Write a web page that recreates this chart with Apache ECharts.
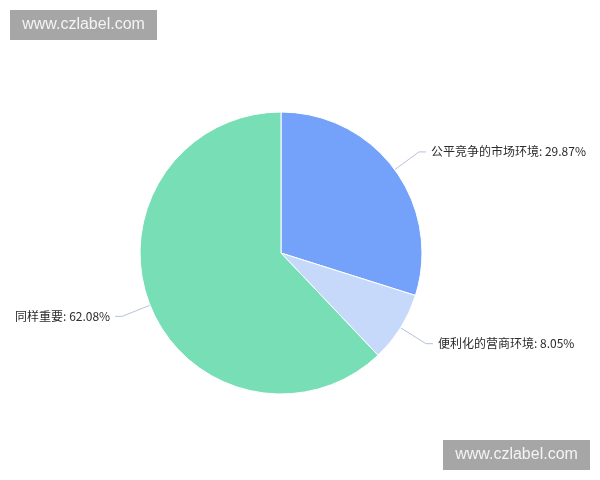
<!DOCTYPE html>
<html>
<head>
<meta charset="utf-8">
<script src="https://cdn.jsdelivr.net/npm/echarts@6/dist/echarts.min.js"></script>
<style>html,body{margin:0;padding:0;background:#fff}#c{width:600px;height:480px}</style>
</head>
<body>
<div id="c"></div>
<script>
const categories = ['公平竞争的市场环境', '便利化的营商环境', '同样重要'];
const values = [29.87, 8.05, 62.08];
const colors = ['#74a2fa', '#c7d9fb', '#78deb6'];
const watermark = 'www.czlabel.com';

const chart = echarts.init(document.getElementById('c'));
function wm(x, y) {
  return {
    type: 'group', left: x, top: y,
    children: [
      { type: 'rect', shape: { x: 0, y: 0, width: 147, height: 30 }, style: { fill: '#a6a6a6' } },
      { type: 'text', x: 73.5, y: 15, style: { text: watermark, fill: '#f4f4f4', font: '16px "Liberation Sans", Arial, sans-serif', textAlign: 'center', textVerticalAlign: 'middle' } }
    ]
  };
}
chart.setOption({
  animation: false,
  graphic: [wm(10, 10), wm(443, 440)],
  series: [{
    type: 'pie',
    center: [281, 253],
    radius: 141,
    startAngle: 90,
    clockwise: true,
    data: categories.map((n, i) => ({ name: n, value: values[i], itemStyle: { color: colors[i] } })),
    itemStyle: { borderColor: '#fff', borderWidth: 1 },
    label: {
      formatter: '{b}: {c}%',
      color: '#2b2b2b',
      fontSize: 12,
      fontFamily: '"Noto Sans CJK SC", sans-serif'
    },
    labelLine: { length: 30, length2: 7, lineStyle: { color: '#b4c3d8', width: 1 } }
  }]
});
</script>
</body>
</html>
